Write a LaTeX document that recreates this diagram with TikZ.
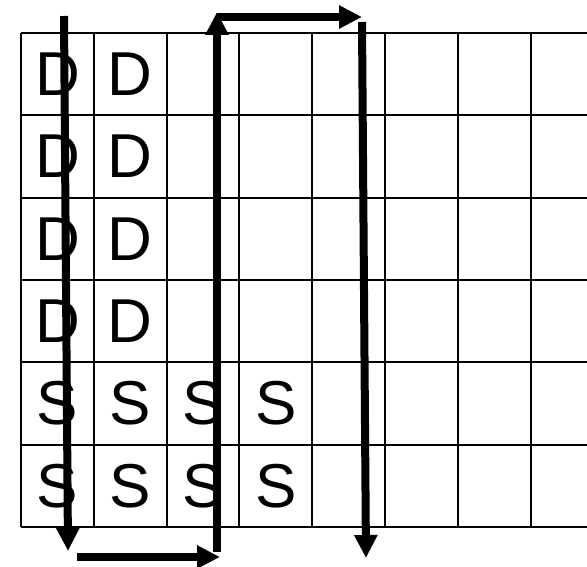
\documentclass[tikz,border=0pt]{standalone}
\usepackage{fontspec}
\setmainfont{Liberation Sans}
\usetikzlibrary{arrows.meta, positioning}

\begin{document}
\begin{tikzpicture}[
    x=1pt, y=1pt,
    cellline/.style={line width=2pt, color=black},
    letter/.style={font=\fontsize{62}{62}\selectfont, inner sep=0pt},
    arr/.style={-{Triangle[length=23pt, width=22pt]}, line width=8pt, color=black},
]
    \useasboundingbox (0,0) rectangle (587,566);
    \clip (0,0) rectangle (587,566);

    % Grid
    \foreach \i in {0,...,8}
        \draw[cellline] ({21+72.8*\i},39) -- ({21+72.8*\i},533);
    \foreach \j in {0,...,6}
        \draw[cellline] (21,{39+82.33*\j}) -- (620,{39+82.33*\j});

    % Labels
    \node[letter] (d1a) at (57.4,491.8) {D};
    \node[letter] (d1b) at (130.2,491.8) {D};
    \node[letter] (d2a) at (57.4,409.5) {D};
    \node[letter] (d2b) at (130.2,409.5) {D};
    \node[letter] (d3a) at (57.4,327.2) {D};
    \node[letter] (d3b) at (130.2,327.2) {D};
    \node[letter] (d4a) at (57.4,244.8) {D};
    \node[letter] (d4b) at (130.2,244.8) {D};
    \node[letter] (s5a) at (57.4,162.5) {S};
    \node[letter] (s5b) at (130.2,162.5) {S};
    \node[letter] (s5c) at (203.0,162.5) {S};
    \node[letter] (s5d) at (275.8,162.5) {S};
    \node[letter] (s6a) at (57.4,80.2) {S};
    \node[letter] (s6b) at (130.2,80.2) {S};
    \node[letter] (s6c) at (203.0,80.2) {S};
    \node[letter] (s6d) at (275.8,80.2) {S};

    % Scan path
    \coordinate (p1s) at (64,550);
    \coordinate (p1e) at (68,15);
    \coordinate (p2s) at (77,9);
    \coordinate (p2e) at (220,9);
    \coordinate (p3s) at (217,14);
    \coordinate (p3e) at (217,554);
    \coordinate (p4s) at (217,549);
    \coordinate (p4e) at (362,549);
    \coordinate (p5s) at (362,544);
    \coordinate (p5e) at (366,8);

    \draw[arr] (p1s) -- (p1e);
    \draw[arr] (p2s) -- (p2e);
    \draw[arr] (p3s) -- (p3e);
    \draw[arr] (p4s) -- (p4e);
    \draw[arr] (p5s) -- (p5e);
\end{tikzpicture}
\end{document}
